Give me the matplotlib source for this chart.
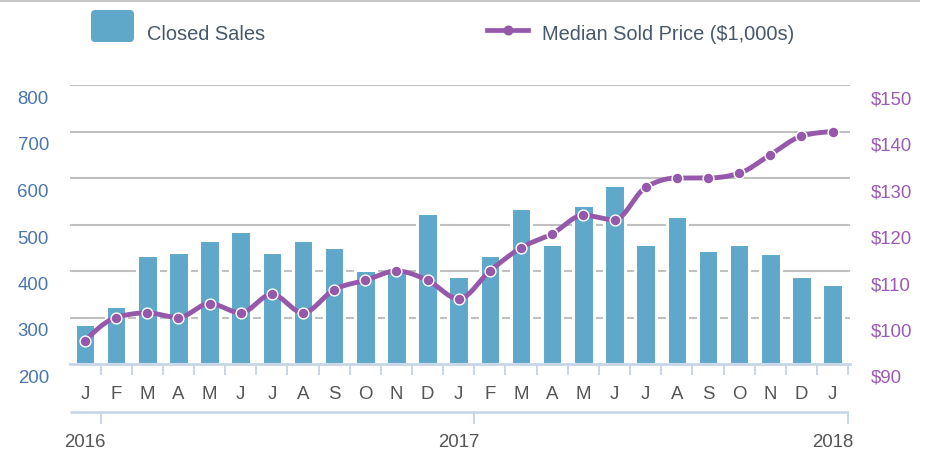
import numpy as np
import matplotlib
matplotlib.use('Agg')
import matplotlib.pyplot as plt
from matplotlib.patches import FancyBboxPatch, Rectangle
from matplotlib.lines import Line2D
from matplotlib.transforms import ScaledTranslation

# donnees (jan 2016 -> jan 2018)
month_letters = ['J', 'F', 'M', 'A', 'M', 'J', 'J', 'A', 'S', 'O', 'N', 'D',
                 'J', 'F', 'M', 'A', 'M', 'J', 'J', 'A', 'S', 'O', 'N', 'D', 'J']
closed_sales = [286, 325, 434, 440, 467, 485, 440, 467, 451, 402, 400, 524,
                389, 434, 535, 457, 541, 586, 457, 518, 445, 457, 439, 389, 371]
median_price = [95, 100, 101, 100, 103, 101, 105, 101, 106, 108, 110, 108,
                104, 110, 115, 118, 122, 121, 128, 130, 130, 131, 135, 139, 140]
years = ['2016', '2017', '2018']
year_pos = [0, 12, 24]
sales_ticks = [200, 300, 400, 500, 600, 700, 800]
price_ticks = [90, 100, 110, 120, 130, 140, 150]

BAR = '#5fa8c9'
PURPLE = '#9558ab'
LEFT_TXT = '#4a76ad'
RIGHT_TXT = '#9b5ab5'
GREY_TXT = '#555555'
LEG_TXT = '#47586b'
GRID = '#c0c0c0'
AXBLUE = '#c6d6e7'

plt.rcParams['font.family'] = ['Liberation Sans', 'DejaVu Sans']


def monotone_curve(xs, ys, n=24):
    # courbe monotone (comme d3.curveMonotoneX) pour lisser le trace
    xs = np.asarray(xs, float)
    ys = np.asarray(ys, float)
    h = np.diff(xs)
    s = np.diff(ys) / h
    m = np.zeros(len(xs))
    for i in range(1, len(xs) - 1):
        s0, s1 = s[i - 1], s[i]
        p = (s0 * h[i] + s1 * h[i - 1]) / (h[i - 1] + h[i])
        m[i] = (np.sign(s0) + np.sign(s1)) * min(abs(s0), abs(s1), 0.5 * abs(p))
    m[0] = (3 * s[0] - m[1]) / 2
    m[-1] = (3 * s[-1] - m[-2]) / 2
    out_x, out_y = [], []
    for i in range(len(xs) - 1):
        t = np.linspace(0, 1, n)
        h00 = 2 * t**3 - 3 * t**2 + 1
        h10 = t**3 - 2 * t**2 + t
        h01 = -2 * t**3 + 3 * t**2
        h11 = t**3 - t**2
        out_x.extend(xs[i] + t * h[i])
        out_y.extend(h00 * ys[i] + h10 * h[i] * m[i] + h01 * ys[i + 1] + h11 * h[i] * m[i + 1])
    return np.array(out_x), np.array(out_y)


W, H = 928, 452
fig = plt.figure(figsize=(W / 100, H / 100), dpi=100)
ax = fig.add_axes([70 / W, 1 - 365 / H, 780 / W, 279 / H])
ax2 = ax.twinx()

x = np.arange(len(closed_sales))
ax.set_xlim(-0.48, 24.56)
ax.set_ylim(200, 800)
ax2.set_ylim(90, 150)

# grille
for v in sales_ticks[1:]:
    ax.axhline(v, color=GRID, lw=1.5, zorder=1)

ax.bar(x, [v - 200 for v in closed_sales], bottom=200, width=0.66, color=BAR,
       edgecolor='white', linewidth=2.2, zorder=2)

cx, cy = monotone_curve(x, median_price)
ax2.plot(cx, cy, color=PURPLE, lw=3.5, solid_capstyle='round', zorder=3)
ax2.plot(x, median_price, 'o', ms=7.8, mfc=PURPLE, mec='white', mew=1.0, zorder=4)

for a in (ax, ax2):
    for sp in ['top', 'left', 'right', 'bottom']:
        a.spines[sp].set_visible(False)
    a.set_yticks([])
ax.spines['bottom'].set_visible(True)
ax.spines['bottom'].set_color(AXBLUE)
ax.spines['bottom'].set_linewidth(2)
ax.spines['bottom'].set_zorder(5)

ax.set_xticks(x + 0.5)
ax.set_xticklabels([])
ax.tick_params(axis='x', direction='out', length=8, width=1.4, color=AXBLUE)

# etiquettes des axes y (decalees sous les lignes)
down = lambda px: ScaledTranslation(0, -px / 100, fig.dpi_scale_trans)
ly = ax.get_yaxis_transform()
for v in sales_ticks:
    ax.text(-21 / 780, v, str(v), transform=ly + down(18), ha='right', va='baseline',
            fontsize=13.4, color=LEFT_TXT)
ry = ax2.get_yaxis_transform()
for v in price_ticks:
    ax2.text(1 + 21 / 780, v, f'${v}', transform=ry + down(18), ha='left', va='baseline',
             fontsize=13.4, color=RIGHT_TXT)

# lettres des mois
xt = ax.get_xaxis_transform()
for i, m in enumerate(month_letters):
    ax.text(i, 0, m, transform=xt + down(34.5), ha='center', va='baseline',
            fontsize=13.4, color=GREY_TXT)

# axe des annees
y_line = -(413 - 365) / 279
y_tick = -(424 - 365) / 279
ax.plot([-0.47, 24.5], [y_line, y_line], transform=xt, color=AXBLUE, lw=1.9,
        clip_on=False, solid_capstyle='butt')
for xp in [0.5, 12.5, 24.5]:
    ax.plot([xp, xp], [y_line, y_tick], transform=xt, color=AXBLUE, lw=1.4, clip_on=False)
for yr, p in zip(years, year_pos):
    ax.text(p, 0, yr, transform=xt + down(81.7), ha='center', va='baseline',
            fontsize=13.4, color=GREY_TXT)

# bandeau gris en haut
fig.add_artist(Rectangle((0, 1 - 2.5 / H), 920 / W, 2.5 / H, transform=fig.transFigure,
                         color='#c8c8c8', lw=0))

# legende
fig.add_artist(FancyBboxPatch((91 / W, 1 - 43 / H), 43 / W, 32 / H,
                              boxstyle='round,pad=0,rounding_size=0.0045',
                              mutation_aspect=W / H, transform=fig.transFigure,
                              color=BAR, lw=0))
fig.text(147 / W, 1 - 40.5 / H, 'Closed Sales', fontsize=14.4, color=LEG_TXT,
         ha='left', va='baseline')
fig.add_artist(Line2D([487 / W, 528 / W], [1 - 31 / H] * 2, transform=fig.transFigure,
                      color=PURPLE, lw=3.4))
fig.add_artist(Line2D([508 / W], [1 - 31 / H], transform=fig.transFigure, marker='o',
                      ms=6.2, mfc=PURPLE, mec=PURPLE, lw=0))
fig.text(542.5 / W, 1 - 40.5 / H, 'Median Sold Price ($1,000s)', fontsize=14.4,
         color=LEG_TXT, ha='left', va='baseline')

fig.savefig('out.png', dpi=100)
